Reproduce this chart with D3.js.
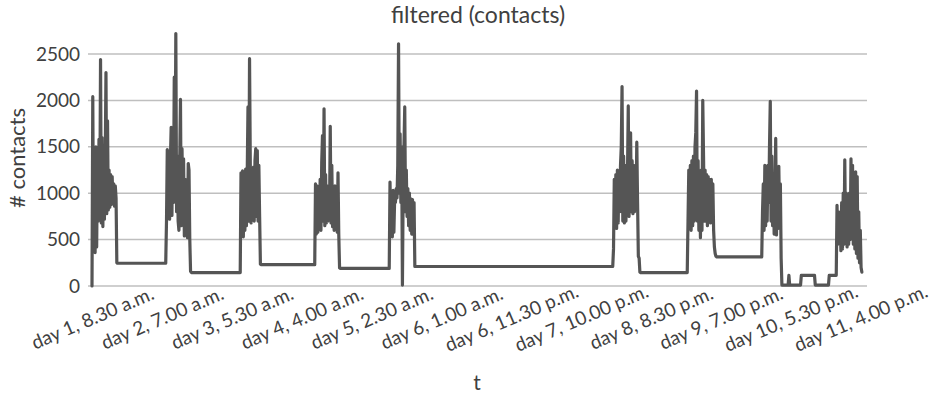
<!DOCTYPE html>
<html>
<head>
<meta charset="utf-8">
<script src="https://cdn.jsdelivr.net/npm/d3@7"></script>
<style>
  html, body { margin: 0; padding: 0; background: #ffffff; }
  svg { display: block; }
  text { font-family: Lato, "Open Sans", sans-serif; fill: #404040; }
</style>
</head>
<body>
<svg id="chart" width="947" height="400"></svg>
<script>
// ---------------- DATA ----------------
const chartTitle = "filtered (contacts)";
const yTitle = "# contacts";
const xTitle = "t";
const yTicks = [0, 500, 1000, 1500, 2000, 2500];
const xTickLabels = [
  "day 1, 8.30 a.m.", "day 2, 7.00 a.m.", "day 3, 5.30 a.m.", "day 4, 4.00 a.m.",
  "day 5, 2.30 a.m.", "day 6, 1.00 a.m.", "day 6, 11.30 p.m.", "day 7, 10.00 p.m.",
  "day 8, 8.30 p.m.", "day 9, 7.00 p.m.", "day 10, 5.30 p.m.", "day 11, 4.00 p.m."
];
const xTickHours = [0, 22.5, 45, 67.5, 90, 112.5, 135, 157.5, 180, 202.5, 225, 247.5];
const sampleStepHours = 0.25;

// active (daytime) bursts: start hour (from day 1, 8.30 a.m.) and readings every 15 minutes
const burstStarts = [0, 24, 48, 72, 96, 168, 192, 216, 240];
const burstDay1 = [0, 2040, 380, 1450, 360, 1500, 420, 1350, 700, 1580, 750, 2440, 680, 1600, 640, 1500, 720, 1300, 2300, 780, 1780, 820, 1250, 850, 1200, 880, 1180, 900, 1100, 860, 1080, 950, 250];
const burstDay2 = [700, 1470, 750, 1450, 720, 1350, 1710, 760, 1650, 900, 2250, 1000, 2720, 800, 1400, 700, 600, 1300, 2010, 650, 1480, 850, 1370, 540, 1150, 600, 900, 520, 1320, 1250, 500, 160];
const burstDay3 = [1220, 560, 1240, 530, 1100, 600, 1260, 650, 1200, 1930, 700, 2450, 1300, 680, 1250, 720, 1280, 700, 1350, 1480, 750, 1460, 700, 1300, 750, 235];
const burstDay4 = [1100, 560, 1080, 580, 1000, 620, 1150, 600, 1330, 1620, 700, 1910, 650, 1200, 680, 1080, 700, 1000, 720, 1720, 680, 1300, 640, 1050, 600, 1080, 640, 900, 580, 1220, 550, 195];
const burstDay5 = [1120, 600, 1000, 530, 1030, 580, 950, 900, 1050, 950, 1300, 2610, 1000, 1640, 900, 1500, 10, 1100, 1500, 1930, 800, 1250, 750, 1050, 650, 1000, 600, 940, 560, 930, 600, 900, 210];
const burstDay8 = [400, 1150, 650, 1200, 620, 1250, 680, 1200, 800, 1300, 1500, 2150, 700, 1400, 680, 1300, 700, 1250, 1200, 1940, 750, 1350, 1650, 800, 1350, 780, 1300, 800, 1250, 850, 1550, 900, 320, 300, 150];
const burstDay9 = [700, 1250, 620, 1300, 600, 1350, 650, 1400, 700, 1500, 1650, 2100, 700, 1350, 600, 1200, 520, 1250, 600, 2000, 1400, 700, 1250, 700, 1200, 650, 1180, 700, 1150, 680, 1150, 700, 1100, 600, 420, 350, 320];
const burstDay10 = [800, 1100, 600, 1300, 650, 1250, 700, 1300, 900, 1500, 1990, 700, 1400, 650, 1200, 560, 1000, 1590, 550, 1200, 620, 1290, 700, 1100, 300, 10];
const burstDay11 = [870, 450, 800, 500, 750, 380, 900, 400, 1000, 450, 1360, 500, 1000, 420, 900, 450, 1000, 500, 1370, 550, 1300, 450, 1200, 400, 1230, 350, 1180, 300, 800, 250, 600, 200, 150];

// quiet periods: [start hour, end hour, level]
const quietPeriods = [
  [8.25, 23.75, 245],
  [32, 47.75, 145],
  [54.5, 71.75, 230],
  [80, 95.75, 190],
  [104.25, 167.75, 210],
  [176.75, 191.75, 145],
  [201.25, 215.75, 314],
  [222.5, 224.25, 10],
  [224.5, 224.5, 115],
  [224.75, 228.25, 10],
  [228.5, 232.75, 115],
  [233, 237.25, 10],
  [237.5, 239.75, 115]
];

// ---------------- BUILD SERIES ----------------
const bursts = [burstDay1, burstDay2, burstDay3, burstDay4, burstDay5, burstDay8, burstDay9, burstDay10, burstDay11];
let series = [];
bursts.forEach((vals, k) => {
  vals.forEach((v, i) => series.push({ t: burstStarts[k] + i * sampleStepHours, v: v }));
});
quietPeriods.forEach(([a, b, v]) => {
  series.push({ t: a, v: v });
  if (b !== a) series.push({ t: b, v: v });
});
series.sort((p, q) => p.t - q.t);

// ---------------- DRAW ----------------
const svg = d3.select("#chart");
const gridLeft = 88, gridRight = 867;
const fontStack = "Lato, 'Open Sans', sans-serif";

const x = d3.scaleLinear().domain([0, 247.5]).range([92, 860.3]);
const y = d3.scaleLinear().domain([0, 2500]).range([286, 54]);

// gridlines
svg.append("g").selectAll("line").data(yTicks).join("line")
  .attr("x1", gridLeft).attr("x2", gridRight)
  .attr("y1", d => y(d)).attr("y2", d => y(d))
  .attr("stroke", "#bfbfbf").attr("stroke-width", 1.5);

// y axis labels
const yAxis = d3.axisLeft(y).tickValues(yTicks).tickSize(0).tickPadding(0).tickFormat(d3.format("d"));
const yg = svg.append("g").attr("transform", "translate(80,0)").call(yAxis);
yg.select(".domain").remove();
yg.selectAll("text").attr("font-size", 19).attr("fill", "#404040")
  .style("font-family", fontStack);

// x axis labels (rotated)
const xAxis = d3.axisBottom(x).tickValues(xTickHours).tickSize(0).tickFormat((d, i) => xTickLabels[i]);
const xg = svg.append("g").attr("transform", "translate(0,318)").call(xAxis);
xg.select(".domain").remove();
xg.selectAll("text")
  .attr("y", 0).attr("dy", "0.35em")
  .attr("text-anchor", "middle")
  .attr("transform", "rotate(-23)")
  .attr("font-size", 19).attr("fill", "#404040")
  .style("font-family", fontStack);

// series line
const line = d3.line().x(d => x(d.t)).y(d => y(d.v));
svg.append("path").datum(series)
  .attr("d", line)
  .attr("fill", "none")
  .attr("stroke", "#555555")
  .attr("stroke-width", 3.2)
  .attr("stroke-linejoin", "round")
  .attr("stroke-linecap", "round");

// titles
svg.append("text").attr("x", 478).attr("y", 23).attr("text-anchor", "middle")
  .attr("font-size", 23).text(chartTitle);
svg.append("text").attr("transform", "translate(25,158) rotate(-90)")
  .attr("text-anchor", "middle").attr("font-size", 22).text(yTitle);
svg.append("text").attr("x", 477).attr("y", 390).attr("text-anchor", "middle")
  .attr("font-size", 21).text(xTitle);
</script>
</body>
</html>
